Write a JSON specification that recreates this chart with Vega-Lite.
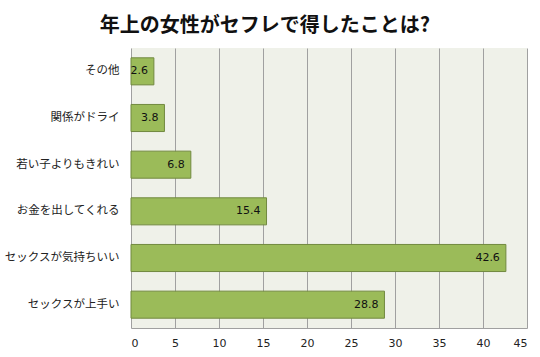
{
  "$schema": "https://vega.github.io/schema/vega-lite/v6.json",
  "width": 396,
  "height": 280,
  "autosize": {"type": "none"},
  "padding": {"left": 131, "top": 48, "right": 13, "bottom": 29},
  "background": "white",
  "title": {
    "text": "年上の女性がセフレで得したことは?",
    "fontSize": 20,
    "fontWeight": "bold",
    "font": "Noto Sans CJK JP",
    "color": "#111111",
    "anchor": "middle",
    "dx": -64,
    "offset": 12
  },
  "config": {
    "view": {"fill": "#EFF1E9", "stroke": null},
    "font": "Noto Sans CJK JP"
  },
  "data": {
    "values": [
      {"item": "その他", "value": 2.6},
      {"item": "関係がドライ", "value": 3.8},
      {"item": "若い子よりもきれい", "value": 6.8},
      {"item": "お金を出してくれる", "value": 15.4},
      {"item": "セックスが気持ちいい", "value": 42.6},
      {"item": "セックスが上手い", "value": 28.8}
    ]
  },
  "encoding": {
    "y": {
      "field": "item",
      "type": "nominal",
      "sort": null,
      "scale": {"paddingInner": 0.42, "paddingOuter": 0.21},
      "axis": {
        "title": null,
        "ticks": false,
        "domain": false,
        "labelFontSize": 11.5,
        "labelColor": "#222222",
        "labelPadding": 12,
        "labelFont": "Noto Sans CJK JP"
      }
    },
    "x": {
      "field": "value",
      "type": "quantitative",
      "scale": {"domain": [0, 45], "nice": false},
      "axis": {
        "title": null,
        "values": [0, 5, 10, 15, 20, 25, 30, 35, 40, 45],
        "ticks": false,
        "domain": true,
        "domainColor": "#A0A0A0",
        "grid": true,
        "gridColor": "#A0A0A0",
        "labelFontSize": 11,
        "labelColor": "#222222",
        "labelPadding": 9,
        "labelFont": "DejaVu Sans"
      }
    }
  },
  "layer": [
    {
      "mark": {"type": "bar", "color": "#9BBB59", "stroke": "#71893F", "strokeWidth": 1}
    },
    {
      "mark": {"type": "text", "align": "right", "dx": -6, "fontSize": 11, "color": "#111111", "font": "DejaVu Sans"},
      "encoding": {"text": {"field": "value", "type": "quantitative", "format": ".1f"}}
    }
  ]
}
